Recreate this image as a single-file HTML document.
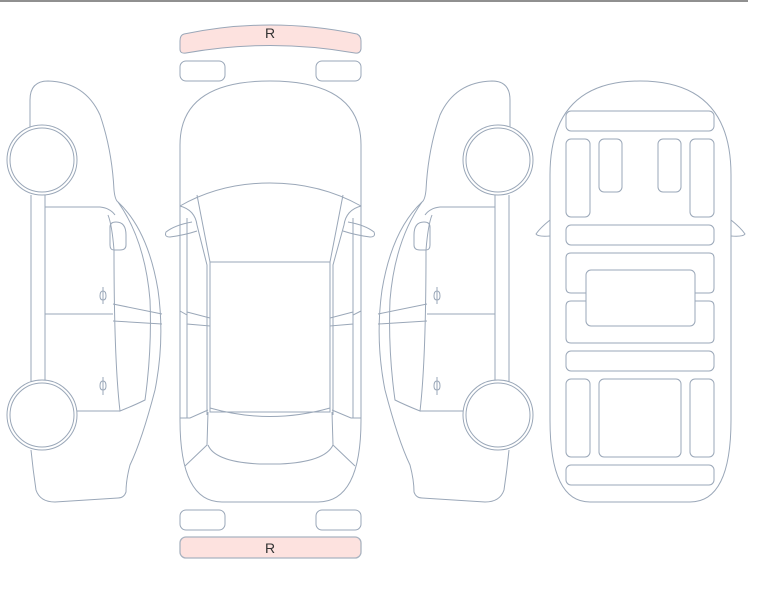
<!DOCTYPE html>
<html><head><meta charset="utf-8"><style>
html,body{margin:0;padding:0;background:#fff;width:765px;height:593px;overflow:hidden}
svg{display:block}
text{font-family:"Liberation Sans",sans-serif;font-size:14px;fill:#333}
</style></head><body>
<svg width="765" height="593" viewBox="0 0 765 593" xmlns="http://www.w3.org/2000/svg">
<line x1="0" y1="1" x2="748" y2="1" stroke="#222" stroke-width="1"/>
<g fill="none" stroke="#9aa7b8" stroke-width="1">
<!-- top bumper -->
<path d="M184,34 Q270,16 357,34 Q361,36 361,41 L361,49 Q360,54 355,53 Q270,38 186,53 Q180,54 180,49 L180,41 Q180,35 184,34 Z" fill="#fde2df"/>
<rect x="180" y="61" width="45" height="20" rx="6"/>
<rect x="316" y="61" width="45" height="20" rx="6"/>
<rect x="180" y="510" width="45" height="20" rx="6"/>
<rect x="316" y="510" width="45" height="20" rx="6"/>
<rect x="180" y="537" width="181" height="21" rx="6" fill="#fde2df" stroke="#a9b3c0" stroke-width="1.3"/>

<!-- top view car -->
<path d="M180,145 Q180,81 270,81 Q361,81 361,145 L361,420 Q361,502 318,502 L222,502 Q180,502 180,420 Z"/>
<path d="M180,206 Q220,183 270,183 Q320,183 361,206"/>
<path d="M180,206 Q195,210 197,225 L207,265 L207,415"/>
<path d="M361,206 Q346,210 344,225 L333,265 L333,415"/>
<path d="M197,195 L210,262 M343,195 L330,262"/>
<rect x="210" y="262" width="120" height="150"/>
<path d="M210,408 Q270,425 330,408"/>
<path d="M208,445 Q215,462 260,464 L280,464 Q325,462 333,445"/>
<path d="M208,412 L207,445 L185,466 M332,412 L333,445 L355,466"/>
<path d="M187,218 L187,418 M353,218 L353,418"/>
<path d="M180,418 L190,418 L208,410 M361,418 L351,418 L332,410"/>
<path d="M180,311 L187,315 L187,324 L210,326 L210,318 L187,312 M361,311 L353,315 L353,324 L330,326 L330,318 L353,312"/>
<path d="M192,222 Q175,225 166,232 Q164,237 170,237 Q185,235 197,231"/>
<path d="M348,222 Q365,225 374,232 Q376,237 370,237 Q355,235 343,231"/>

<!-- side views -->
<g id="side">
<path d="M30,100 Q30,81 48,81 Q85,82 100,115 Q112,150 114,190 Q115,200 118,202 Q148,230 158,290 Q165,340 155,390 Q142,440 130,465 Q126,480 126,492 Q124,498 118,498 L55,502 Q40,502 36,490 Q33,470 31,450"/>
<path d="M31,440 L31,195 M30,130 L30,100"/>
<path d="M45,195 L45,383 M45,207 L100,207 Q110,208 115,215 M45,314 L113,314 M77,411 L120,411"/>
<path d="M118,202 Q145,240 150,300 Q152,350 145,400 Q135,405 120,411 Q114,360 114,250 Q112,225 108,215"/>
<path d="M113,304 L162,314 M113,321 L162,324"/>
<path d="M110,227 Q110,222 116,222 Q126,222 126,235 L126,245 Q126,250 120,250 L114,250 Q110,250 110,245 Z"/>
<path d="M103,287 L103,304 M100,296 Q100,291 103,291 Q106,291 106,296 Q106,300 103,300 Q100,300 100,296 M103,377 L103,395 M100,386 Q100,381 103,381 Q106,381 106,386 Q106,390 103,390 Q100,390 100,386"/>
<circle cx="42" cy="160" r="35" fill="#fff"/>
<circle cx="42" cy="160" r="32"/>
<circle cx="42" cy="415" r="35" fill="#fff"/>
<circle cx="42" cy="415" r="32"/>
</g>
<use href="#side" transform="translate(540,0) scale(-1,1)"/>

<!-- cabin view -->
<path d="M550,175 Q550,81 640,81 Q731,81 731,175 L731,420 Q731,502 690,502 L590,502 Q550,502 550,420 Z"/>
<path d="M550,220 Q540,228 536,234 Q538,237 550,236 M731,220 Q741,228 745,234 Q743,237 731,236"/>
<rect x="566" y="111" width="148" height="20" rx="5"/>
<rect x="566" y="139" width="24" height="78" rx="5"/>
<rect x="599" y="139" width="23" height="53" rx="5"/>
<rect x="658" y="139" width="23" height="53" rx="5"/>
<rect x="690" y="139" width="24" height="78" rx="5"/>
<rect x="566" y="225" width="148" height="20" rx="5"/>
<path d="M586,293 L571,293 Q566,293 566,288 L566,258 Q566,253 571,253 L709,253 Q714,253 714,258 L714,288 Q714,293 709,293 L695,293"/>
<path d="M586,301 L571,301 Q566,301 566,306 L566,338 Q566,343 571,343 L709,343 Q714,343 714,338 L714,306 Q714,301 709,301 L695,301"/>
<rect x="586" y="270" width="109" height="56" rx="5"/>
<rect x="566" y="351" width="148" height="20" rx="5"/>
<rect x="566" y="379" width="24" height="78" rx="5"/>
<rect x="599" y="379" width="82" height="78" rx="5"/>
<rect x="690" y="379" width="24" height="78" rx="5"/>
<rect x="566" y="465" width="148" height="20" rx="5"/>
</g>
<text x="270" y="38" text-anchor="middle">R</text>
<text x="270" y="553" text-anchor="middle">R</text>
</svg>
</body></html>
